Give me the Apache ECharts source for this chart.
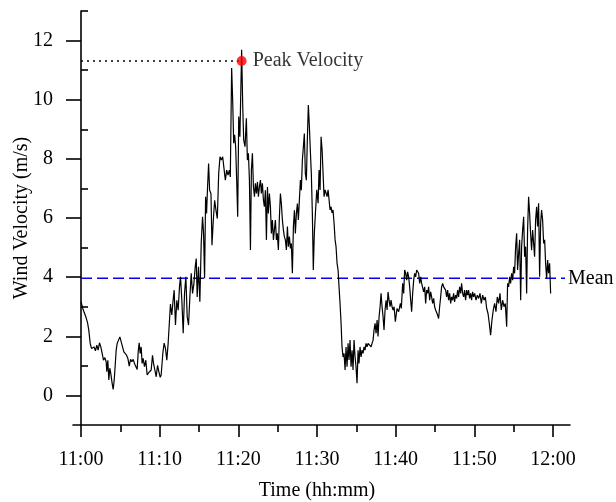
<!DOCTYPE html>
<html>
<head>
<meta charset="utf-8">
<script src="https://cdn.jsdelivr.net/npm/echarts@6/dist/echarts.min.js"></script>
<style>
  html, body { margin: 0; padding: 0; background: #fff; }
  #chart { width: 616px; height: 502px; }
</style>
</head>
<body>
<div id="chart"></div>
<script>
// Minutes after 11:00
const minutes = [
  0.0,0.23,0.4,0.61,0.83,0.99,1.17,1.33,1.5,1.67,1.84,2.01,2.18,2.35,2.52,2.69,2.86,3.03,3.2,3.28,
  3.41,3.54,3.66,3.79,3.96,4.09,4.22,4.35,4.47,4.6,4.77,4.94,5.11,5.28,5.45,5.62,5.79,5.96,6.13,6.3,
  6.46,6.63,6.8,6.97,7.14,7.27,7.39,7.52,7.65,7.77,7.9,8.07,8.24,8.41,8.58,8.75,8.92,9.09,9.22,9.39,
  9.56,9.73,9.9,10.07,
  10.19,10.4,10.57,10.74,10.91,11.08,11.25,11.37,11.54,11.71,11.84,12.01,12.18,12.35,12.52,12.65,12.82,12.99,13.16,13.33,
  13.5,13.67,13.84,14.01,14.18,14.35,14.52,14.65,14.77,14.94,15.11,15.28,15.45,15.58,15.71,15.84,15.96,16.09,16.22,16.35,
  16.52,16.65,16.82,16.99,17.16,17.33,17.5,17.67,17.84,18.01,18.18,18.35,18.52,18.69,18.86,18.98,19.15,19.28,19.41,19.53,
  19.66,19.79,19.92,
  20.05,20.2,20.42,20.56,20.68,20.85,21.02,21.15,21.28,21.41,21.54,21.66,21.79,21.92,22.05,22.17,22.3,22.43,22.55,22.68,
  22.81,22.93,23.06,23.19,23.31,23.44,23.57,23.7,23.82,23.95,24.08,24.2,24.33,24.46,24.58,24.71,24.84,24.96,25.09,25.22,
  25.35,25.47,25.6,25.73,25.85,25.98,26.11,26.24,26.36,26.49,26.62,26.74,26.87,27.0,27.13,27.25,27.38,27.51,27.63,27.76,
  27.89,28.01,28.14,28.27,28.39,28.52,28.65,28.77,28.9,29.03,29.15,29.28,29.41,29.53,29.66,
  29.8,29.97,30.14,30.26,30.39,30.52,30.65,30.77,30.9,31.03,31.15,31.28,31.41,31.53,31.66,31.79,31.91,32.04,32.17,32.3,
  32.42,32.55,32.68,32.8,32.93,33.06,33.18,33.31,33.44,33.57,33.69,33.82,33.95,34.07,34.2,34.33,34.46,34.58,34.71,34.84,
  34.96,35.09,35.22,35.34,35.47,35.6,35.73,35.85,35.98,36.11,36.23,36.36,36.49,36.62,36.74,36.87,37.0,37.13,37.25,37.38,
  37.51,37.64,37.76,37.89,38.02,38.14,38.27,38.4,38.52,38.65,38.78,38.91,39.03,39.16,39.29,39.41,39.54,39.67,39.8,
  39.96,40.17,40.38,40.6,40.72,40.89,41.02,41.14,41.27,41.4,41.52,41.65,41.78,41.91,42.03,42.16,42.29,42.41,42.54,42.67,
  42.8,42.92,43.05,43.18,43.3,43.43,43.56,43.69,43.81,43.94,44.07,44.19,44.32,44.45,44.57,44.7,44.83,44.95,45.08,45.21,
  45.33,45.46,45.59,45.72,45.84,45.97,46.1,46.22,46.35,46.48,46.61,46.73,46.86,46.99,47.11,47.24,47.37,47.49,47.62,47.75,
  47.88,48.0,48.13,48.26,48.38,48.51,48.64,48.76,48.89,49.02,49.15,49.27,49.4,49.53,49.65,49.78,49.91,
  50.04,50.21,50.38,50.55,50.72,50.89,51.06,51.23,51.4,51.57,51.74,51.9,52.07,52.24,52.41,52.58,52.75,52.92,53.09,53.26,
  53.43,53.6,53.77,53.94,54.11,54.23,54.36,54.49,54.61,54.74,54.87,55.0,55.12,55.25,55.38,55.5,55.63,55.76,55.89,56.01,
  56.14,56.27,56.39,56.52,56.65,56.77,56.9,57.03,57.15,57.28,57.41,57.54,57.66,57.79,57.92,58.04,58.17,58.3,58.43,58.55,
  58.68,58.81,58.94,59.06,59.19,59.32,59.44,59.57,59.7
];
// Wind velocity (m/s)
const velocity = [
  3.17,2.94,2.81,2.66,2.46,2.21,1.76,1.59,1.53,1.64,1.51,1.70,1.53,1.78,1.64,1.59,1.19,1.28,1.14,0.80,
  1.19,0.52,0.92,0.74,0.41,0.20,0.52,1.03,1.53,1.76,1.87,1.98,1.93,1.64,1.47,1.51,1.36,1.25,0.99,1.22,
  1.14,1.22,1.08,1.10,0.88,1.47,1.78,1.42,1.64,1.08,1.25,0.97,1.19,0.69,0.76,0.72,0.86,1.36,1.08,0.86,
  0.63,1.02,0.80,0.61,
  0.69,1.42,1.77,1.59,1.19,1.77,1.82,3.09,2.72,3.22,3.56,2.38,3.22,2.88,3.67,4.01,3.22,2.10,3.45,4.01,
  2.66,2.38,3.33,4.13,3.45,3.78,4.35,4.63,3.33,4.35,3.17,5.14,6.04,5.48,3.96,6.72,6.15,7.05,7.84,6.94,
  6.83,5.08,5.93,6.60,6.26,5.98,7.50,8.07,7.96,8.07,7.67,7.28,7.62,7.45,7.62,7.39,11.07,9.99,8.53,8.81,
  8.41,7.28,6.04,
  9.43,8.75,11.69,9.77,8.64,8.41,9.37,7.96,8.19,7.29,4.92,7.62,8.19,7.05,6.72,7.17,6.83,7.22,6.72,7.05,
  7.28,6.83,7.17,6.60,6.38,6.94,5.26,7.05,6.15,6.83,6.38,5.48,5.93,5.26,5.59,5.93,5.26,5.48,4.92,6.04,
  6.83,6.49,5.93,5.59,5.37,5.26,4.92,5.71,5.03,5.37,4.97,5.14,4.13,5.71,6.26,5.48,6.15,6.49,5.93,6.60,
  7.28,6.94,7.96,8.41,8.86,7.50,7.28,8.64,9.82,9.09,8.30,7.50,6.15,4.24,5.48,
  6.17,6.95,6.50,7.62,6.95,8.75,8.30,7.51,6.72,6.95,6.84,6.72,6.95,7.00,6.27,6.38,6.17,6.27,5.82,5.26,
  5.03,4.47,4.24,3.67,3.11,2.44,1.64,1.30,1.42,0.86,1.64,0.97,1.76,1.20,1.87,0.97,1.53,0.86,1.87,1.30,
  0.97,0.41,1.53,1.08,1.64,1.30,1.53,1.42,1.64,1.53,1.76,1.64,1.76,1.70,1.76,1.64,1.76,1.87,2.21,2.44,
  2.10,2.55,1.99,2.66,3.00,3.45,3.00,2.66,2.21,2.89,3.22,2.89,3.50,3.22,3.00,3.22,3.00,2.89,3.00,
  2.49,2.94,2.83,3.11,2.94,3.79,3.45,4.24,4.13,3.90,4.18,4.01,3.67,3.22,2.83,3.45,3.90,4.13,4.01,4.24,
  4.30,4.13,3.79,4.01,3.79,3.84,3.50,3.67,3.11,3.56,3.45,3.67,3.22,3.50,3.33,3.11,3.28,3.00,2.89,2.94,
  2.72,2.60,3.00,3.33,3.67,3.79,3.67,3.62,3.56,3.33,3.56,3.22,3.45,3.11,3.33,3.22,3.45,3.16,3.39,3.28,
  3.56,3.33,3.67,3.45,3.79,3.45,3.33,3.56,3.22,3.56,3.39,3.56,3.28,3.45,3.22,3.50,3.33,
  3.45,3.22,3.39,3.28,3.45,3.11,3.39,3.22,3.33,2.94,2.77,2.44,2.04,2.55,2.89,3.11,2.83,3.33,3.11,3.45,
  2.89,3.22,3.00,3.11,2.32,3.79,3.67,4.01,3.79,4.13,3.90,4.35,4.13,5.03,5.48,4.24,4.80,5.26,3.22,5.03,
  5.59,6.04,4.69,5.03,3.45,5.59,6.72,6.15,5.48,4.91,5.59,5.14,4.69,5.93,6.38,5.71,6.50,4.01,5.82,6.27,
  5.93,5.14,5.26,4.47,3.96,4.58,4.13,4.47,3.45
];
const xTickLabels = ['11:00', '11:10', '11:20', '11:30', '11:40', '11:50', '12:00'];
const xMajorTicks = [0, 10, 20, 30, 40, 50, 60];
const xMinorTicks = [5, 15, 25, 35, 45, 55];
const yMajorTicks = [0, 2, 4, 6, 8, 10, 12];
const yMinorTicks = [1, 3, 5, 7, 9, 11, 13];
const meanVelocity = 3.96;
const meanLineEnd = 61.53;
const peakMinute = 20.42;
const peakVelocity = 11.31;

const FONT = '"Liberation Serif", "Times New Roman", serif';
const FS = 20;
const PX_PER_MIN = 472 / 60;
const X_MIN = -8 / PX_PER_MIN;
const X_MAX = 60 + 17 / PX_PER_MIN;

const chart = echarts.init(document.getElementById('chart'), null, { renderer: 'canvas' });
const axisColor = '#000';
const lineStyleAxis = { color: axisColor, width: 1.6 };

const option = {
  backgroundColor: '#fff',
  animation: false,
  grid: { left: 73, right: 46, top: 11, bottom: 77, containLabel: false, outerBoundsMode: 'none' },
  xAxis: [
    {
      type: 'value', min: X_MIN, max: X_MAX, position: 'bottom',
      axisLine: { show: true, onZero: false, lineStyle: lineStyleAxis },
      axisTick: { show: true, length: 12, customValues: xMajorTicks, lineStyle: lineStyleAxis },
      axisLabel: {
        show: true, customValues: xMajorTicks, margin: 25,
        color: '#000', fontSize: FS, fontFamily: FONT,
        formatter: v => xTickLabels[Math.round(v / 10)]
      },
      splitLine: { show: false },
      name: 'Time (hh:mm)', nameLocation: 'middle', nameGap: 56, nameMoveOverlap: false,
      nameTextStyle: { color: '#000', fontSize: FS, fontFamily: FONT, padding: [0, 9, 0, 0] }
    },
    {
      type: 'value', min: X_MIN, max: X_MAX, position: 'bottom',
      axisLine: { show: false, onZero: false },
      axisTick: { show: true, length: 7, customValues: xMinorTicks, lineStyle: lineStyleAxis },
      axisLabel: { show: false },
      splitLine: { show: false }
    }
  ],
  yAxis: [
    {
      type: 'value', min: -1, max: 13,
      axisLine: { show: true, onZero: true, lineStyle: lineStyleAxis },
      axisTick: { show: true, length: 15, customValues: yMajorTicks, lineStyle: lineStyleAxis },
      axisLabel: {
        show: true, customValues: yMajorTicks, margin: 20,
        color: '#000', fontSize: FS, fontFamily: FONT
      },
      splitLine: { show: false },
      name: 'Wind Velocity (m/s)', nameLocation: 'middle', nameGap: 41, nameRotate: 90, nameMoveOverlap: false,
      nameTextStyle: { color: '#000', fontSize: FS, fontFamily: FONT }
    },
    {
      type: 'value', min: -1, max: 13,
      axisLine: { show: false, onZero: true },
      axisTick: { show: true, length: 7, customValues: yMinorTicks, lineStyle: lineStyleAxis },
      axisLabel: { show: false },
      splitLine: { show: false }
    }
  ],
  series: [
    {
      name: 'Wind Velocity', type: 'line', xAxisIndex: 0, yAxisIndex: 0,
      data: minutes.map((m, i) => [m, velocity[i]]),
      showSymbol: false, symbol: 'none',
      lineStyle: { color: '#000', width: 1.2 }, z: 3
    },
    {
      name: 'Mean', type: 'line', xAxisIndex: 0, yAxisIndex: 0,
      data: [[0, meanVelocity], [meanLineEnd, meanVelocity]],
      showSymbol: false, symbol: 'none',
      lineStyle: { color: '#0000ff', width: 1.5, type: [11, 5] },
      endLabel: { show: true, formatter: 'Mean', distance: 3, color: '#000', fontSize: FS, fontFamily: FONT },
      z: 2
    },
    {
      name: 'Peak line', type: 'line', xAxisIndex: 0, yAxisIndex: 0,
      data: [[0, peakVelocity], [peakMinute, peakVelocity]],
      showSymbol: false, symbol: 'none',
      lineStyle: { color: '#000', width: 1.4, type: [2, 4] }, z: 2
    },
    {
      name: 'Peak Velocity', type: 'scatter', xAxisIndex: 0, yAxisIndex: 0,
      data: [[peakMinute, peakVelocity]],
      symbol: 'circle', symbolSize: 10,
      itemStyle: { color: '#ff0000' },
      label: { show: true, position: 'right', distance: 6, formatter: 'Peak Velocity', color: '#000', fontSize: FS, fontFamily: FONT },
      z: 5
    }
  ]
};
chart.setOption(option);
</script>
</body>
</html>
